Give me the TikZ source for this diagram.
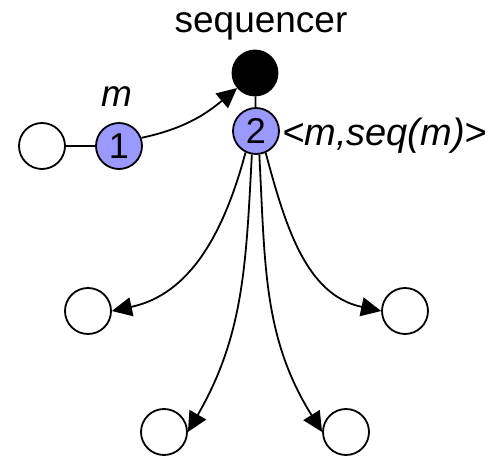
\documentclass[tikz,border=0pt]{standalone}
\usepackage{fontspec}
\setmainfont{Liberation Sans}
\usetikzlibrary{arrows.meta}
\definecolor{procblue}{HTML}{9999FF}
\begin{document}
\begin{tikzpicture}[x=1pt,y=-1pt,
  proc/.style={circle,draw,line width=1.8pt,minimum size=46pt,inner sep=0pt},
  active/.style={proc,fill=procblue,font=\fontsize{36}{40}\selectfont},
  link/.style={line width=1.8pt},
  msg/.style={line width=1.8pt,-{Triangle[length=20pt,width=19pt]}},
  lbl/.style={font=\fontsize{37}{40}\selectfont\itshape,inner sep=0pt}]
\useasboundingbox (0,0) rectangle (493,457);

% sequencer process and its label
\node[proc,fill=black,minimum size=45pt] (seq) at (255,73) {};
\node[font=\fontsize{37}{40}\selectfont,inner sep=0pt,anchor=base] (seqlbl) at (261,33) {sequencer};

% sender side
\node[proc] (src) at (42,146) {};
\node[active] (p1) at (119,146) {1};
\node[lbl,anchor=base] (mlbl) at (117,107) {m};

% sequencer's broadcasting process
\node[active] (p2) at (256,131) {2};
\node[lbl,anchor=base west,font=\fontsize{38}{40}\selectfont\itshape] (ordlbl) at (282,146) {<m,seq(m)>};

% receivers
\node[proc] (r1) at (88,311) {};
\node[proc] (r2) at (164,432) {};
\node[proc] (r3) at (346,432) {};
\node[proc] (r4) at (405,311) {};

% connections
\draw[link] (src) -- (p1);
\draw[link] (seq) -- (p2);
\draw[msg] (p1.20) to[out=12,in=220] (seq.220);

% ordered multicast to all receivers
\draw[msg] (p2.-116) to[out=-105,in=12] (r1.east);
\draw[msg] (p2.-100) to[out=-93,in=60] (r2.east);
\draw[msg] (p2.-82) to[out=-87,in=122] (r3.west);
\draw[msg] (p2.-66) to[out=-75,in=168] (r4.west);
\end{tikzpicture}
\end{document}
